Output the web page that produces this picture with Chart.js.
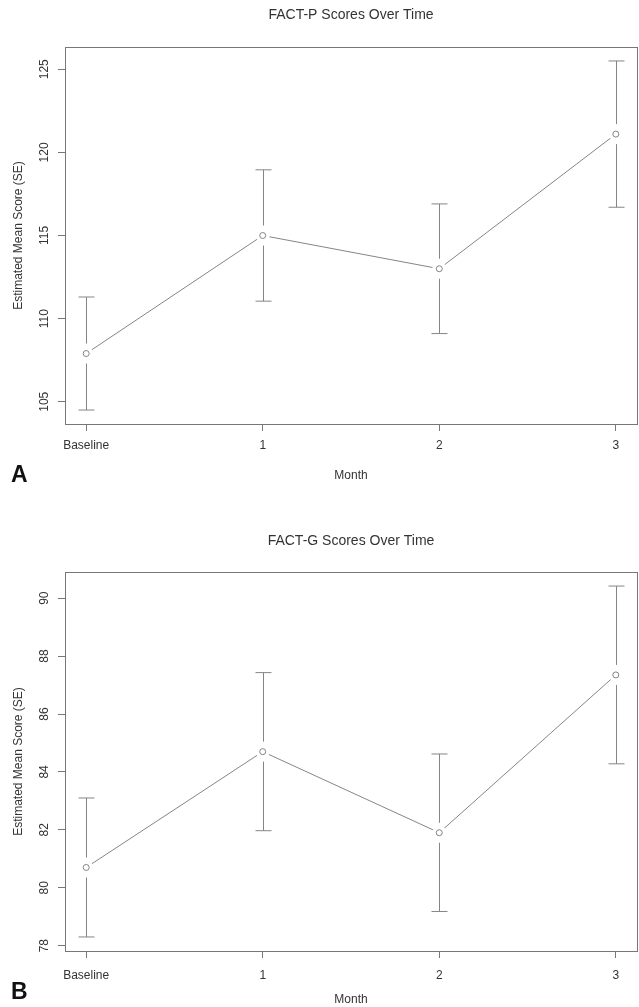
<!DOCTYPE html>
<html>
<head>
<meta charset="utf-8">
<script src="https://cdn.jsdelivr.net/npm/chart.js@4.4.0/dist/chart.umd.min.js"></script>
<style>
  body { margin: 0; background: #fff; overflow: hidden; }
  #wrap { position: relative; width: 639px; height: 1007px; }
  canvas { position: absolute; left: 0; }
</style>
</head>
<body>
<div id="wrap">
  <canvas id="chartA" width="639" height="500" style="top:0"></canvas>
  <canvas id="chartB" width="639" height="507" style="top:500px"></canvas>
</div>
<script>
// x axis: months
const monthPos = [0, 1, 2, 3];
const monthLabels = ['Baseline', '1', '2', '3'];

// panel A - FACT-P estimated mean and SE
const factPMean = [107.9, 115.0, 113.0, 121.1];
const factPSE = [3.4, 3.95, 3.9, 4.4];
const factPTicks = [105, 110, 115, 120, 125];

// panel B - FACT-G estimated mean and SE
const factGMean = [80.7, 84.7, 81.9, 87.35];
const factGSE = [2.4, 2.73, 2.72, 3.07];
const factGTicks = [78, 80, 82, 84, 86, 88, 90];

const FONT = '"Liberation Sans", Arial, Helvetica, sans-serif';
const AXIS = '#777';
const LINE = '#858585';
const INK = '#333';
const TITLE_SIZE = 14;

function makeChart(id, opt){
  const ctx = document.getElementById(id).getContext('2d');
  const lo = opt.mean.map((m, i) => m - opt.se[i]);
  const hi = opt.mean.map((m, i) => m + opt.se[i]);
  // R style 4% axis extension
  const yMin = Math.min(...lo), yMax = Math.max(...hi);
  const ext = (yMax - yMin) * 0.04;
  const pts = monthPos.map((x, i) => ({x: x, y: opt.mean[i]}));
  const tLine = TITLE_SIZE * 1.2;

  const extras = {
    id: 'extras',
    beforeDatasetsDraw(chart){
      const {ctx, scales: {x, y}} = chart;
      ctx.save();
      ctx.strokeStyle = LINE;
      ctx.lineWidth = 1;
      monthPos.forEach((m, i) => {
        const px = Math.round(x.getPixelForValue(m)) + 0.5;
        const pm = y.getPixelForValue(opt.mean[i]);
        const pl = y.getPixelForValue(lo[i]);
        const ph = y.getPixelForValue(hi[i]);
        ctx.beginPath();
        ctx.moveTo(px, ph); ctx.lineTo(px, pm - 10);
        ctx.moveTo(px, pm + 10); ctx.lineTo(px, pl);
        ctx.moveTo(px - 8, ph); ctx.lineTo(px + 8, ph);
        ctx.moveTo(px - 8, pl); ctx.lineTo(px + 8, pl);
        ctx.stroke();
      });
      ctx.restore();
    },
    afterDraw(chart){
      const {ctx, chartArea: a, scales: {y}} = chart;
      ctx.save();
      ctx.strokeStyle = AXIS;
      ctx.lineWidth = 1;
      ctx.strokeRect(Math.round(a.left) + 0.5, Math.round(a.top) + 0.5,
                     Math.round(a.right - a.left), Math.round(a.bottom - a.top));
      // y tick labels run along the axis, like R
      ctx.fillStyle = INK;
      ctx.font = '12px ' + FONT;
      ctx.textAlign = 'center';
      ctx.textBaseline = 'middle';
      y.ticks.forEach(t => {
        ctx.save();
        ctx.translate(45, y.getPixelForValue(t.value));
        ctx.rotate(-Math.PI / 2);
        ctx.fillText(String(t.value), 0, 0);
        ctx.restore();
      });
      ctx.font = 'bold 23px ' + FONT;
      ctx.fillStyle = '#111';
      ctx.textAlign = 'left';
      ctx.fillText(opt.letter, 11, opt.letterY);
      ctx.restore();
    }
  };

  return new Chart(ctx, {
    type: 'scatter',
    data: {
      datasets: [{
        data: pts,
        showLine: false,
        pointRadius: 3,
        pointBorderWidth: 1,
        pointBorderColor: LINE,
        pointBackgroundColor: '#fff',
        order: 0
      }, {
        data: pts,
        showLine: true,
        borderColor: LINE,
        borderWidth: 1,
        pointRadius: 7,
        pointBorderWidth: 0,
        pointBorderColor: '#fff',
        pointBackgroundColor: '#fff',
        order: 1
      }]
    },
    options: {
      responsive: false,
      animation: false,
      layout: { autoPadding: false, padding: { left: 0, right: 2, top: 0, bottom: 0 } },
      plugins: {
        legend: { display: false },
        tooltip: { enabled: false },
        title: {
          display: true,
          text: opt.title,
          fullSize: false,
          color: INK,
          font: { family: FONT, size: TITLE_SIZE, weight: 'normal', lineHeight: 1.2 },
          padding: { top: opt.titleY - tLine / 2, bottom: opt.plotTop - opt.titleY - tLine / 2 }
        }
      },
      scales: {
        x: {
          type: 'linear',
          min: -0.12,
          max: 3.12,
          afterBuildTicks: s => { s.ticks = monthPos.map(v => ({value: v})); },
          afterFit: s => {
            s.height = opt.h - opt.plotBottom;
            s.paddingLeft = 0;
            s.paddingRight = 0;
          },
          grid: { drawOnChartArea: false, drawTicks: true, tickLength: 7, color: AXIS },
          border: { display: false },
          ticks: {
            callback: (v, i) => monthLabels[i],
            autoSkip: false,
            maxRotation: 0,
            color: INK,
            font: { family: FONT, size: 12 },
            padding: opt.labelY - opt.plotBottom - 7 - 7.2
          },
          title: {
            display: true,
            text: 'Month',
            color: INK,
            font: { family: FONT, size: 12 },
            padding: { top: 0, bottom: opt.h - opt.monthY - 7.2 }
          }
        },
        y: {
          type: 'linear',
          min: yMin - ext,
          max: yMax + ext,
          afterBuildTicks: s => { s.ticks = opt.ticks.map(v => ({value: v})); },
          afterFit: s => {
            s.width = 65;
            s.paddingTop = 0;
            s.paddingBottom = 0;
          },
          grid: { drawOnChartArea: false, drawTicks: true, tickLength: 7, color: AXIS },
          border: { display: false },
          ticks: { display: false },
          title: {
            display: true,
            text: 'Estimated Mean Score (SE)',
            color: INK,
            font: { family: FONT, size: 12 },
            padding: { top: 11, bottom: 0 }
          }
        }
      }
    },
    plugins: [extras]
  });
}

makeChart('chartA', {
  title: 'FACT-P Scores Over Time', letter: 'A',
  mean: factPMean, se: factPSE, ticks: factPTicks,
  h: 500, titleY: 15, plotTop: 47, plotBottom: 424, labelY: 446, monthY: 476, letterY: 476
});

makeChart('chartB', {
  title: 'FACT-G Scores Over Time', letter: 'B',
  mean: factGMean, se: factGSE, ticks: factGTicks,
  h: 507, titleY: 41, plotTop: 72, plotBottom: 451, labelY: 476, monthY: 500, letterY: 493
});
</script>
</body>
</html>
